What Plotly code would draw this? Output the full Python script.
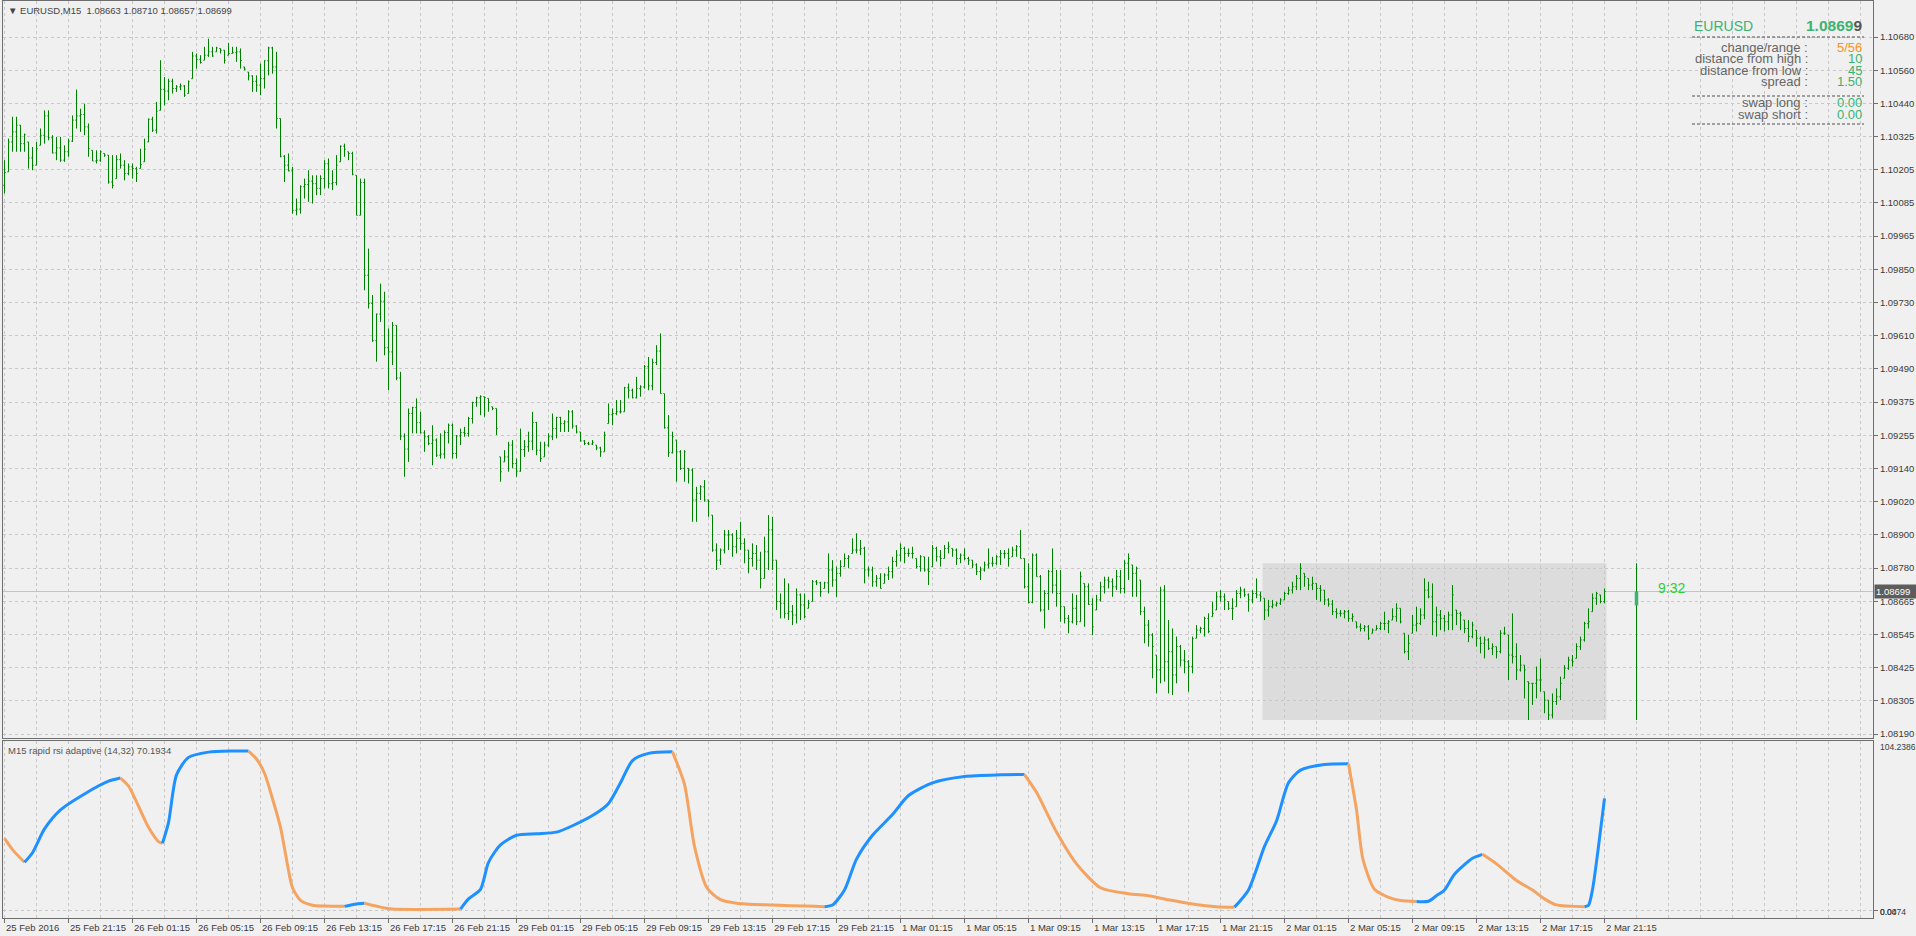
import plotly.graph_objects as go
from plotly.subplots import make_subplots

# ---------------- DATA ----------------
high = [
 1.10240,1.10317,1.10395,1.10395,1.10365,1.10335,1.10305,1.10287,1.10305,1.10353,
 1.10418,1.10418,1.10329,1.10323,1.10323,1.10293,1.10317,1.10400,1.10492,1.10424,
 1.10442,1.10371,1.10275,1.10275,1.10275,1.10264,1.10258,1.10258,1.10258,1.10264,
 1.10240,1.10228,1.10228,1.10216,1.10281,1.10317,1.10389,1.10395,1.10448,1.10597,
 1.10537,1.10531,1.10531,1.10508,1.10514,1.10508,1.10525,1.10627,1.10621,1.10615,
 1.10645,1.10674,1.10645,1.10645,1.10639,1.10633,1.10659,1.10645,1.10645,1.10639,
 1.10573,1.10555,1.10543,1.10543,1.10585,1.10597,1.10645,1.10645,1.10627,1.10389,
 1.10258,1.10264,1.10216,1.10103,1.10150,1.10174,1.10204,1.10186,1.10186,1.10186,
 1.10240,1.10246,1.10204,1.10258,1.10293,1.10299,1.10270,1.10270,1.10186,1.10174,
 1.10174,1.09924,1.09758,1.09692,1.09799,1.09770,1.09639,1.09662,1.09650,1.09484,
 1.09264,1.09353,1.09359,1.09389,1.09341,1.09275,1.09258,1.09293,1.09246,1.09264,
 1.09275,1.09299,1.09299,1.09258,1.09281,1.09287,1.09323,1.09377,1.09395,1.09400,
 1.09395,1.09389,1.09359,1.09353,1.09180,1.09204,1.09234,1.09240,1.09174,1.09281,
 1.09240,1.09270,1.09341,1.09305,1.09234,1.09234,1.09264,1.09335,1.09323,1.09323,
 1.09311,1.09347,1.09347,1.09293,1.09269,1.09240,1.09234,1.09240,1.09222,1.09216,
 1.09270,1.09371,1.09353,1.09383,1.09383,1.09430,1.09442,1.09424,1.09466,1.09436,
 1.09508,1.09537,1.09531,1.09579,1.09621,1.09406,1.09329,1.09270,1.09240,1.09204,
 1.09204,1.09139,1.09139,1.09073,1.09079,1.09097,1.09026,1.08972,1.08871,1.08853,
 1.08919,1.08919,1.08907,1.08919,1.08948,1.08889,1.08847,1.08871,1.08865,1.08841,
 1.08895,1.08972,1.08966,1.08811,1.08692,1.08746,1.08728,1.08651,1.08710,1.08692,
 1.08692,1.08669,1.08740,1.08740,1.08734,1.08734,1.08835,1.08811,1.08788,1.08811,
 1.08835,1.08829,1.08889,1.08907,1.08883,1.08859,1.08788,1.08788,1.08758,1.08764,
 1.08764,1.08788,1.08823,1.08847,1.08871,1.08859,1.08853,
 1.08859,1.08817,1.08829,1.08823,1.08823,1.08865,1.08859,1.08847,1.08865,1.08877,1.08853,1.08853,
 1.08835,1.08853,1.08823,1.08811,1.08800,1.08788,1.08806,1.08853,1.08823,1.08829,
 1.08847,1.08847,1.08853,1.08859,1.08865,1.08919,1.08817,1.08800,1.08835,1.08835,
 1.08758,1.08704,1.08776,1.08853,1.08776,1.08776,1.08645,1.08615,1.08692,1.08687,
 1.08770,1.08728,1.08728,1.08675,1.08687,1.08734,1.08752,1.08752,1.08746,1.08776,
 1.08776,1.08811,1.08835,1.08794,1.08788,1.08740,1.08645,1.08597,1.08550,1.08472,
 1.08716,1.08722,1.08597,1.08567,1.08538,1.08508,1.08490,1.08454,1.08538,1.08579,
 1.08573,1.08609,1.08621,1.08663,1.08698,1.08704,1.08692,1.08663,1.08675,1.08704,
 1.08716,1.08710,1.08692,1.08704,1.08746,1.08698,1.08675,1.08669,1.08669,1.08663,
 1.08675,1.08698,1.08716,1.08734,1.08758,1.08800,1.08764,1.08746,1.08752,1.08728,
 1.08722,1.08704,1.08675,1.08669,1.08639,1.08633,
 1.08633,1.08633,1.08621,
 1.08591,1.08585,1.08579,1.08579,1.08567,1.08579,1.08591,1.08627,1.08597,1.08639,
 1.08657,1.08639,1.08550,1.08544,1.08615,1.08645,1.08639,1.08746,1.08734,1.08728,
 1.08645,1.08633,1.08615,1.08627,1.08722,1.08633,1.08627,1.08597,1.08597,1.08591,
 1.08561,1.08538,1.08538,1.08532,1.08514,1.08502,1.08561,1.08573,1.08544,1.08621,
 1.08514,1.08472,1.08436,1.08377,1.08371,1.08431,1.08460,1.08341,1.08311,1.08335,
 1.08353,1.08395,1.08436,1.08466,1.08472,1.08514,1.08538,1.08591,1.08639,1.08692,
 1.08698,1.08687,1.08710,
]
low = [
 1.10121,1.10198,1.10270,1.10270,1.10270,1.10270,1.10210,1.10204,1.10222,1.10293,
 1.10299,1.10311,1.10264,1.10240,1.10234,1.10234,1.10252,1.10305,1.10353,1.10341,
 1.10329,1.10252,1.10237,1.10228,1.10234,1.10252,1.10156,1.10139,1.10174,1.10210,
 1.10168,1.10186,1.10174,1.10162,1.10210,1.10234,1.10305,1.10341,1.10335,1.10418,
 1.10436,1.10454,1.10478,1.10484,1.10490,1.10466,1.10478,1.10531,1.10567,1.10585,
 1.10597,1.10609,1.10609,1.10627,1.10621,1.10585,1.10615,1.10621,1.10591,1.10567,
 1.10561,1.10525,1.10484,1.10484,1.10472,1.10496,1.10543,1.10549,1.10353,1.10250,
 1.10162,1.10200,1.10049,1.10043,1.10049,1.10103,1.10091,1.10085,1.10115,1.10115,
 1.10139,1.10139,1.10133,1.10150,1.10234,1.10252,1.10240,1.10186,1.10043,1.10043,
 1.09775,1.09710,1.09591,1.09520,1.09662,1.09543,1.09418,1.09508,1.09454,1.09240,
 1.09109,1.09162,1.09264,1.09264,1.09264,1.09198,1.09222,1.09150,1.09180,1.09174,
 1.09174,1.09228,1.09174,1.09174,1.09222,1.09252,1.09252,1.09299,1.09359,1.09329,
 1.09323,1.09341,1.09347,1.09258,1.09091,1.09162,1.09127,1.09139,1.09109,1.09127,
 1.09180,1.09198,1.09204,1.09186,1.09162,1.09180,1.09216,1.09240,1.09246,1.09269,
 1.09269,1.09269,1.09281,1.09264,1.09234,1.09222,1.09222,1.09222,1.09204,1.09180,
 1.09198,1.09299,1.09293,1.09329,1.09335,1.09341,1.09389,1.09389,1.09389,1.09395,
 1.09424,1.09418,1.09418,1.09508,1.09406,1.09281,1.09180,1.09192,1.09091,1.09133,
 1.09091,1.09085,1.08948,1.08948,1.09026,1.09020,1.08966,1.08841,1.08776,1.08794,
 1.08835,1.08847,1.08823,1.08835,1.08847,1.08800,1.08764,1.08788,1.08776,1.08710,
 1.08746,1.08776,1.08776,1.08633,1.08603,1.08603,1.08597,1.08579,1.08585,1.08597,
 1.08603,1.08639,1.08663,1.08722,1.08680,1.08710,1.08692,1.08716,1.08680,1.08752,
 1.08788,1.08782,1.08835,1.08835,1.08829,1.08728,1.08752,1.08716,1.08716,1.08710,
 1.08728,1.08740,1.08746,1.08788,1.08806,1.08800,1.08823,
 1.08817,1.08782,1.08770,1.08770,1.08722,1.08788,1.08806,1.08788,1.08817,1.08835,1.08823,1.08794,
 1.08800,1.08811,1.08794,1.08782,1.08758,1.08740,1.08770,1.08782,1.08788,1.08794,
 1.08794,1.08817,1.08788,1.08823,1.08823,1.08817,1.08710,1.08657,1.08657,1.08752,
 1.08627,1.08567,1.08633,1.08692,1.08645,1.08591,1.08585,1.08550,1.08585,1.08579,
 1.08591,1.08573,1.08651,1.08543,1.08633,1.08663,1.08692,1.08710,1.08680,1.08704,
 1.08692,1.08692,1.08740,1.08680,1.08680,1.08615,1.08514,1.08502,1.08389,1.08335,
 1.08371,1.08377,1.08335,1.08329,1.08371,1.08431,1.08407,1.08341,1.08407,1.08532,
 1.08550,1.08538,1.08550,1.08609,1.08633,1.08663,1.08633,1.08633,1.08597,1.08645,
 1.08675,1.08680,1.08627,1.08657,1.08675,1.08663,1.08597,1.08609,1.08639,1.08645,
 1.08651,1.08669,1.08687,1.08692,1.08704,1.08704,1.08716,1.08704,1.08704,1.08669,
 1.08663,1.08651,1.08645,1.08615,1.08603,1.08609,
 1.08603,1.08591,1.08591,
 1.08567,1.08556,1.08556,1.08526,1.08550,1.08561,1.08561,1.08561,1.08550,1.08597,
 1.08591,1.08585,1.08478,1.08454,1.08550,1.08556,1.08579,1.08600,1.08675,1.08543,
 1.08538,1.08561,1.08556,1.08561,1.08561,1.08579,1.08561,1.08550,1.08518,1.08532,
 1.08502,1.08478,1.08460,1.08490,1.08472,1.08460,1.08478,1.08544,1.08383,1.08442,
 1.08383,1.08413,1.08317,1.08240,1.08294,1.08317,1.08341,1.08264,1.08240,1.08246,
 1.08294,1.08311,1.08389,1.08419,1.08431,1.08460,1.08490,1.08520,1.08567,1.08627,
 1.08651,1.08657,1.08657,
]
close = [
 1.10196,1.10305,1.10341,1.10365,1.10299,1.10331,1.10248,1.10222,1.10281,1.10329,
 1.10398,1.10320,1.10266,1.10284,1.10240,1.10270,1.10308,1.10383,1.10398,1.10403,
 1.10359,1.10281,1.10237,1.10240,1.10270,1.10258,1.10162,1.10150,1.10242,1.10222,
 1.10192,1.10216,1.10210,1.10192,1.10224,1.10279,1.10386,1.10347,1.10415,1.10493,
 1.10487,1.10522,1.10496,1.10502,1.10505,1.10472,1.10520,1.10612,1.10600,1.10589,
 1.10615,1.10627,1.10612,1.10641,1.10633,1.10597,1.10621,1.10624,1.10627,1.10596,
 1.10565,1.10541,1.10522,1.10508,1.10531,1.10595,1.10641,1.10573,1.10389,1.10254,
 1.10222,1.10202,1.10061,1.10065,1.10145,1.10153,1.10165,1.10156,1.10139,1.10174,
 1.10227,1.10156,1.10160,1.10222,1.10290,1.10279,1.10264,1.10190,1.10043,1.10160,
 1.09829,1.09728,1.09595,1.09690,1.09736,1.09570,1.09555,1.09650,1.09462,1.09254,
 1.09208,1.09335,1.09356,1.09302,1.09266,1.09252,1.09228,1.09240,1.09186,1.09190,
 1.09267,1.09293,1.09192,1.09255,1.09267,1.09264,1.09317,1.09374,1.09391,1.09395,
 1.09392,1.09374,1.09353,1.09281,1.09127,1.09180,1.09222,1.09156,1.09129,1.09206,
 1.09216,1.09236,1.09303,1.09204,1.09174,1.09222,1.09252,1.09281,1.09321,1.09299,
 1.09305,1.09341,1.09290,1.09269,1.09237,1.09228,1.09226,1.09232,1.09212,1.09198,
 1.09258,1.09331,1.09335,1.09341,1.09341,1.09427,1.09418,1.09391,1.09424,1.09430,
 1.09502,1.09434,1.09517,1.09558,1.09406,1.09284,1.09195,1.09252,1.09198,1.09139,
 1.09198,1.09133,1.09026,1.09050,1.09073,1.09026,1.09020,1.08847,1.08811,1.08847,
 1.08901,1.08901,1.08859,1.08889,1.08871,1.08847,1.08817,1.08835,1.08811,1.08746,
 1.08841,1.08919,1.08811,1.08663,1.08657,1.08621,1.08627,1.08615,1.08687,1.08651,
 1.08609,1.08657,1.08734,1.08730,1.08698,1.08730,1.08776,1.08740,1.08764,1.08788,
 1.08817,1.08823,1.08847,1.08847,1.08853,1.08776,1.08776,1.08734,1.08746,1.08710,
 1.08758,1.08770,1.08806,1.08829,1.08853,1.08835,1.08835,
 1.08835,1.08788,1.08823,1.08776,1.08770,1.08853,1.08823,1.08817,1.08853,1.08859,1.08847,1.08817,
 1.08829,1.08817,1.08811,1.08794,1.08770,1.08776,1.08794,1.08800,1.08800,1.08823,
 1.08835,1.08835,1.08817,1.08847,1.08859,1.08817,1.08716,1.08660,1.08829,1.08752,
 1.08633,1.08692,1.08770,1.08722,1.08692,1.08645,1.08603,1.08591,1.08639,1.08591,
 1.08752,1.08716,1.08653,1.08573,1.08669,1.08716,1.08740,1.08734,1.08716,1.08752,
 1.08710,1.08800,1.08817,1.08764,1.08782,1.08627,1.08579,1.08543,1.08502,1.08419,
 1.08704,1.08448,1.08484,1.08401,1.08502,1.08454,1.08448,1.08431,1.08530,1.08561,
 1.08567,1.08603,1.08556,1.08621,1.08680,1.08680,1.08669,1.08639,1.08639,1.08692,
 1.08704,1.08687,1.08669,1.08692,1.08687,1.08680,1.08633,1.08645,1.08651,1.08657,
 1.08669,1.08692,1.08704,1.08716,1.08746,1.08782,1.08752,1.08722,1.08728,1.08710,
 1.08704,1.08669,1.08654,1.08627,1.08621,1.08621,
 1.08627,1.08603,1.08609,
 1.08573,1.08567,1.08573,1.08532,1.08561,1.08567,1.08585,1.08585,1.08591,1.08609,
 1.08639,1.08591,1.08484,1.08514,1.08579,1.08585,1.08615,1.08704,1.08680,1.08591,
 1.08615,1.08603,1.08591,1.08615,1.08687,1.08621,1.08615,1.08567,1.08538,1.08579,
 1.08532,1.08514,1.08526,1.08496,1.08502,1.08484,1.08550,1.08550,1.08472,1.08466,
 1.08419,1.08436,1.08419,1.08371,1.08371,1.08383,1.08383,1.08311,1.08258,1.08306,
 1.08323,1.08371,1.08425,1.08454,1.08448,1.08502,1.08526,1.08585,1.08591,1.08675,
 1.08692,1.08663,1.08699,
]
first_open = 1.10150

# rapid rsi adaptive (bar index, value)
rsi_bar = [0, 2, 5, 7, 10, 14, 20, 26, 29, 31, 33, 36, 38.5, 39.5, 41, 43, 46, 51, 57, 61,
           63, 65, 67, 69, 71, 72, 74, 77, 80, 85, 88, 90, 94, 97, 114, 116, 119, 121, 124, 128,
           133, 138, 142, 148, 151, 154, 157, 161, 167, 170, 172.5, 175.6, 179, 183, 192, 205, 207, 210, 213, 217,
           222, 226, 232, 240, 249, 255, 258, 263, 268, 274, 281, 286, 291, 297, 303, 307.5, 311, 315, 318, 321,
           324, 330, 336, 338, 339.6, 342.5, 346, 349, 353, 356, 358, 360, 362.5, 367, 369.5, 373, 378, 382, 385, 388,
           395, 396, 397, 398.3, 400]
rsi_val = [45, 38, 30, 36, 51, 63, 73, 81, 83, 78, 68, 52, 43, 42, 55, 85, 96, 99.3, 100, 100,
           95, 86, 70, 52, 25, 14, 6, 3, 2.5, 2.3, 3.8, 4.2, 1.8, 0.6, 0.6, 7, 13, 30, 41, 47,
           48, 49, 53, 61, 67, 80, 94, 98.5, 99.5, 79, 40, 14, 6.5, 4.3, 3.1, 2.1, 3.1, 12.6, 32, 47,
           60, 72, 80, 84, 85, 85.2, 74, 49, 29, 14, 10.2, 9, 6.4, 3.8, 2.1, 1.8, 12.6, 40, 56, 80,
           88, 91.5, 92, 63, 32, 13, 8, 6, 5.3, 5.5, 9, 12.6, 22.5, 32.5, 35, 29, 18.6, 12.6, 7, 3.2,
           2.1, 3, 12.8, 36, 70.19]

ytick_vals = [1.106800, 1.105614, 1.104429, 1.103243, 1.102057, 1.100872, 1.099686, 1.098500,
              1.097314, 1.096129, 1.094943, 1.093757, 1.092572, 1.091386, 1.090200, 1.089015,
              1.087829, 1.086643, 1.085457, 1.084272, 1.083086, 1.081900]
ytick_text = ["1.10680", "1.10560", "1.10440", "1.10325", "1.10205", "1.10085", "1.09965", "1.09850",
              "1.09730", "1.09610", "1.09490", "1.09375", "1.09255", "1.09140", "1.09020", "1.08900",
              "1.08780", "1.08665", "1.08545", "1.08425", "1.08305", "1.08190"]
xtick_pos = list(range(0, 401, 16))
xtick_text = ["25 Feb 2016", "25 Feb 21:15", "26 Feb 01:15", "26 Feb 05:15", "26 Feb 09:15",
              "26 Feb 13:15", "26 Feb 17:15", "26 Feb 21:15", "29 Feb 01:15", "29 Feb 05:15",
              "29 Feb 09:15", "29 Feb 13:15", "29 Feb 17:15", "29 Feb 21:15", "1 Mar 01:15",
              "1 Mar 05:15", "1 Mar 09:15", "1 Mar 13:15", "1 Mar 17:15", "1 Mar 21:15",
              "2 Mar 01:15", "2 Mar 05:15", "2 Mar 09:15", "2 Mar 13:15", "2 Mar 17:15", "2 Mar 21:15"]

day_high = 1.08800
day_low = 1.08240
day_open = 1.08649
last_price = 1.08699
day_first_bar = 315
day_bar_pos = 408

# ---------------- FIGURE ----------------
n = len(close)
assert len(high) == n and len(low) == n, (len(high), len(low), n)
xs = list(range(n))
opens = [first_open] + close[:-1]
opens = [min(max(o, l), h) for o, l, h in zip(opens, low, high)]

W, H = 1916, 936
PL, PR, PT, PB = 3, 1873, 1, 918
def px(X):
    return (X - PL) / (PR - PL)
def py(Y):
    return (PB - Y) / (PB - PT)

BG = "#F0F0F0"
GRID = "#C8C8C8"
AXIS = "#6E6E6E"
TXT = "#3A3A3A"
BAR = "#008000"
FONT = "Liberation Sans, Arial, sans-serif"

fig = make_subplots(rows=2, cols=1, shared_xaxes=True, vertical_spacing=0.0)

fig.add_trace(go.Ohlc(x=xs, open=opens, high=high, low=low, close=close,
                      increasing=dict(line=dict(color=BAR, width=1)),
                      decreasing=dict(line=dict(color=BAR, width=1)),
                      tickwidth=0.3, hoverinfo="skip", showlegend=False), row=1, col=1)

# daily range bar drawn right of the last bar
fig.add_trace(go.Scatter(x=[day_bar_pos, day_bar_pos], y=[day_low, day_high], mode="lines",
                         line=dict(color=BAR, width=1), hoverinfo="skip", showlegend=False), row=1, col=1)
fig.add_trace(go.Scatter(x=[day_bar_pos, day_bar_pos], y=[day_open, last_price], mode="lines",
                         line=dict(color="#3CB371", width=3.5), hoverinfo="skip", showlegend=False), row=1, col=1)

# RSI coloured by slope
BLUE, ORANGE = "#1E90FF", "#F4A460"
segs = []
prev_up = False
for j in range(len(rsi_val) - 1):
    d = rsi_val[j + 1] - rsi_val[j]
    up = prev_up if d == 0 else d > 0
    if segs and segs[-1][0] == up:
        segs[-1][1].append(j + 1)
    else:
        segs.append([up, [j, j + 1]])
    prev_up = up
for up, idx in segs:
    fig.add_trace(go.Scatter(x=[rsi_bar[k] for k in idx], y=[rsi_val[k] for k in idx], mode="lines",
                             line=dict(color=BLUE if up else ORANGE, width=3, shape="spline", smoothing=0.7),
                             hoverinfo="skip", showlegend=False), row=2, col=1)

xr = [-0.25 - 0.125, 467.25 - 0.125]
grid_common = dict(showgrid=True, gridcolor=GRID, griddash="3px,3px", gridwidth=1)
fig.update_xaxes(range=xr, showline=True, mirror=True, linecolor=AXIS, linewidth=1,
                 tickmode="array", tickvals=xtick_pos, showticklabels=False,
                 zeroline=False, **grid_common,
                 minor=dict(tickmode="linear", tick0=0, dtick=8, showgrid=True, gridcolor=GRID,
                            griddash="3px,3px", ticks=""))
fig.update_xaxes(ticks="", row=1, col=1, rangeslider_visible=False)
fig.update_xaxes(ticks="outside", ticklen=4, tickcolor=AXIS, row=2, col=1)

fig.update_yaxes(side="right", showline=True, mirror=True, linecolor=AXIS, linewidth=1, zeroline=False,
                 ticks="outside", ticklen=4, tickcolor=AXIS, **grid_common)
fig.update_yaxes(range=[1.081757, 1.108086], tickmode="array", tickvals=ytick_vals, ticktext=ytick_text,
                 tickfont=dict(family=FONT, size=9.5, color=TXT), domain=[py(738), 1.0], row=1, col=1)
fig.update_yaxes(range=[-5.03, 106.3], tickmode="array", tickvals=[0], showticklabels=False,
                 domain=[0.0, py(741)], row=2, col=1)

shapes = [
    dict(type="rect", xref="x", yref="y", x0=day_first_bar - 0.5, x1=n - 0.5, y0=day_low, y1=day_high,
         fillcolor="#DCDCDC", line=dict(width=0), layer="below"),
    dict(type="line", xref="paper", yref="y", x0=0, x1=1, y0=last_price, y1=last_price,
         line=dict(color="#C4C4C4", width=1), layer="below"),
]
for yy in (37, 96, 124):
    shapes.append(dict(type="line", xref="paper", yref="paper", x0=px(1692), x1=px(1864),
                       y0=py(yy), y1=py(yy), line=dict(color="#505050", width=1, dash="3px,2px")))

ann = []
def A(text, X, Y, size, color, xanchor="left", **kw):
    d = dict(text=text, x=px(X), y=py(Y), xref="paper", yref="paper", xanchor=xanchor,
             yanchor="middle", showarrow=False, font=dict(family=FONT, size=size, color=color))
    d.update(kw)
    ann.append(d)

A("\u25BC\u00a0EURUSD,M15\u00a0\u00a01.08663 1.08710 1.08657 1.08699", 6, 11, 9.5, "#444444")
A("M15 rapid rsi adaptive (14,32) 70.1934", 6, 750, 9.5, "#555555")

# info panel
GREEN = "#3CB371"
A("EURUSD", 1692, 26, 14, GREEN)
A("<b>1.0869<span style='color:#555555'>9</span></b>", 1864, 26, 15.5, GREEN, xanchor="right")
rows = [("change/range :", "5/56", "#F7931E", 47), ("distance from high :", "10", GREEN, 59),
        ("distance from low :", "45", GREEN, 70), ("spread :", "1.50", GREEN, 82),
        ("swap long :", "0.00", GREEN, 102), ("swap short :", "0.00", GREEN, 115)]
for lab, val, col, yy in rows:
    A(lab, 1810, yy, 13, "#666666", xanchor="right")
    A(val, 1864, yy, 13, col, xanchor="right")

A("9:32", 1656, 588, 14, "#33CC33")

# lower-panel scale labels
A("104.2386", 1878, 747, 8.5, TXT)
A("0.0474", 1878, 912, 8.5, TXT)
A("0.00", 1878, 912, 8.5, TXT)

# current price tag
ann.append(dict(text="1.08699", x=px(1874), y=last_price, xref="paper", yref="y", xanchor="left",
                yanchor="middle", showarrow=False, bgcolor="#5C5C5C", borderpad=1, width=40, align="left",
                font=dict(family=FONT, size=9.5, color="#FFFFFF")))

# time labels (left-anchored at their ticks)
for pos, lab in zip(xtick_pos, xtick_text):
    ann.append(dict(text=lab, x=pos, xref="x2", y=0, yref="paper", xanchor="left", yanchor="top",
                    yshift=-2, xshift=-1, showarrow=False, font=dict(family=FONT, size=9.5, color=TXT)))

fig.update_layout(width=W, height=H, margin=dict(l=PL, r=W - PR, t=PT, b=H - PB),
                  paper_bgcolor=BG, plot_bgcolor=BG, showlegend=False,
                  font=dict(family=FONT, size=9.5, color=TXT),
                  shapes=shapes, annotations=ann, hovermode=False, dragmode=False)

fig.write_html("out.html", config={"displayModeBar": False},
               post_script="document.body.style.margin='0px';document.body.style.overflow='hidden';"
                           "document.body.style.background='#F0F0F0';")
